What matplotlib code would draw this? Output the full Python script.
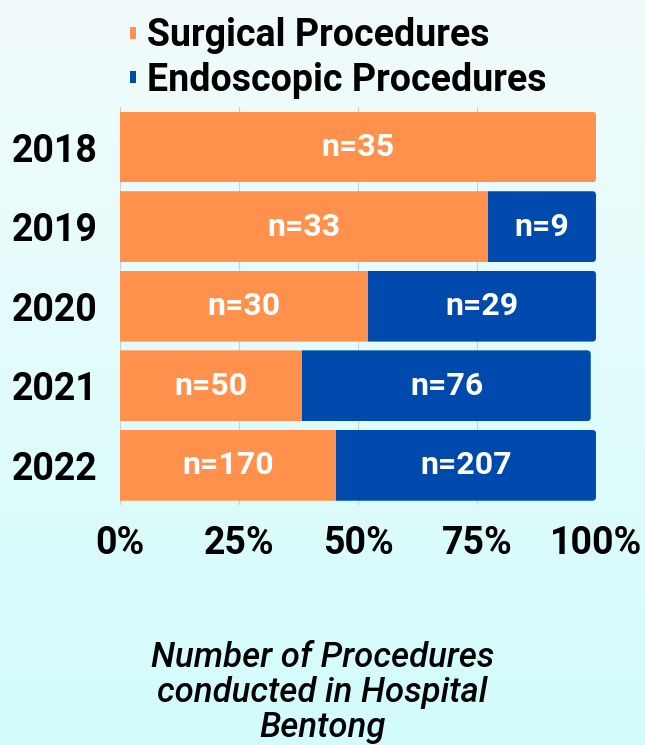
import numpy as np
import matplotlib
matplotlib.use("Agg")
import matplotlib.pyplot as plt
from matplotlib.patches import FancyBboxPatch

years = ["2018", "2019", "2020", "2021", "2022"]
surgical_n = [35, 33, 30, 50, 170]
endo_n = [0, 9, 29, 76, 207]
# shares (percent of bar)
surgical_pct = [100, 77.3, 52.1, 38.3, 45.3]
endo_pct = [0, 22.7, 47.9, 60.6, 54.7]
ticks = [0, 25, 50, 75, 100]
caption = "Number of Procedures\nconducted in Hospital\nBentong"

orange = "#FF914D"
blue = "#004AAD"

plt.rcParams["font.family"] = ["Roboto", "DejaVu Sans"]

fig = plt.figure(figsize=(6.45, 7.45), dpi=100)

# background gradient
bg = fig.add_axes([0, 0, 1, 1], zorder=-1)
top = np.array([0.949, 0.984, 0.984])
bot = np.array([0.824, 0.988, 0.988])
t = np.linspace(0, 1, 256)[:, None]
grad = (top * (1 - t) + bot * t)[:, None, :]
bg.imshow(grad, aspect="auto", extent=[0, 1, 0, 1])
bg.axis("off")

ax = fig.add_axes([0.186, 0.322, 0.738, 0.534])
ax.set_facecolor("none")
y = np.arange(len(years))
h = 0.89
b1 = ax.barh(y, surgical_pct, height=h, color=orange, label="Surgical Procedures", zorder=2)
b2 = ax.barh(y, endo_pct, left=surgical_pct, height=h, color=blue,
             label="Endoscopic Procedures", zorder=2)

# rounded right ends of each bar
for i in range(len(years)):
    total = surgical_pct[i] + endo_pct[i]
    clip = FancyBboxPatch((-5, y[i] - h / 2), total + 5, h,
                          boxstyle="round,pad=0,rounding_size=0.8",
                          mutation_aspect=0.06, transform=ax.transData)
    b1[i].set_clip_path(clip)
    b2[i].set_clip_path(clip)

for i in range(len(years)):
    ax.text(surgical_pct[i] / 2, y[i], "n=%d" % surgical_n[i], color="white",
            fontsize=23, fontweight="bold", ha="center", va="center", zorder=3)
    if endo_n[i] > 0:
        ax.text(surgical_pct[i] + endo_pct[i] / 2, y[i], "n=%d" % endo_n[i], color="white",
                fontsize=23, fontweight="bold", ha="center", va="center", zorder=3)

ax.set_xlim(0, 100)
ax.set_ylim(4.5, -0.5)
ax.set_yticks(y)
ax.set_yticklabels(years, fontsize=27, fontweight="bold")
ax.set_xticks(ticks)
ax.set_xticklabels(["%d%%" % v for v in ticks], fontsize=27, fontweight="bold")
ax.tick_params(length=0)
ax.tick_params(axis="x", pad=14)
ax.tick_params(axis="y", pad=16)
ax.grid(axis="x", color="#c5d3d6", linewidth=0.8, zorder=0)
for s in ax.spines.values():
    s.set_visible(False)

fig.legend(handles=[b1, b2], loc="upper left", bbox_to_anchor=(0.149, 1.022),
           frameon=False, handlelength=0.17, handleheight=0.12,
           handletextpad=0.3, labelspacing=0.2, prop={"weight": "bold", "size": 27})

fig.text(0.5, 0.0705, caption, ha="center", va="center", fontsize=25,
         style="italic", fontweight="medium", linespacing=1.07)

fig.savefig("out.png", dpi=100)
